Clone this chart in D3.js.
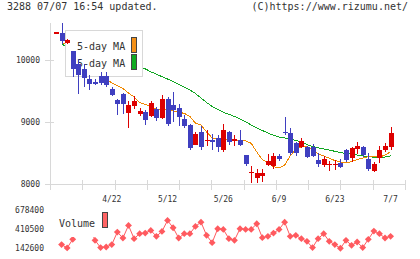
<!DOCTYPE html>
<html>
<head>
<meta charset="utf-8">
<script src="https://cdn.jsdelivr.net/npm/d3@7"></script>
<style>
  body { margin: 0; background: #fff; }
  svg { display: block; }
  text { font-family: "DejaVu Sans Mono", monospace; fill: #333; }
</style>
</head>
<body>
<div class="chart-box"></div>
<script>
/* Data (index 0 .. 60, one trading day each) */
const opens  = [10440,10435,10279,10140,9940,9860,9698,9650,9742,9742,9537,9360,9457,9150,9258,9129,9161,9092,9205,9070,
                9366,9274,9221,9043,8952,8629,8834,8689,8710,8737,8548,8834,8699,8710,8468,8173,8092,8129,8306,8290,
                8452,8844,8818,8657,8592,8592,8592,8387,8306,8306,8306,8344,8548,8414,8565,8592,8403,8215,8424,8548,8602];
const highs  = [10455,10597,10335,10150,10021,9940,9753,9698,9806,9806,9565,9376,9473,9339,9419,9226,9189,9334,9242,9430,
                9400,9489,9290,9113,8968,8844,8940,8871,8802,8790,8968,8855,8790,8871,8468,8290,8237,8237,8484,8505,
                8480,9076,8898,8683,8737,8613,8645,8505,8452,8376,8387,8398,8565,8592,8673,8613,8495,8360,8613,8657,8914];
const lows   = [10440,10263,10263,9726,9456,9565,9511,9597,9592,9565,9419,9118,9134,8903,9205,9097,8957,9081,9011,9054,
                8940,9005,8935,8898,8548,8629,8548,8613,8548,8521,8521,8629,8613,8618,8295,8021,8021,8037,8290,8237,
                8370,8790,8468,8452,8576,8420,8431,8279,8279,8215,8226,8253,8355,8350,8484,8431,8215,8194,8334,8521,8548];
const closes = [10450,10302,10318,9860,9753,9710,9608,9610,9634,9602,9441,9286,9295,9269,9334,9173,9027,9312,9065,9366,
                8965,9194,9076,8935,8586,8806,8602,8710,8673,8602,8871,8673,8726,8629,8318,8198,8173,8182,8376,8452,
                8398,8823,8505,8495,8694,8431,8452,8323,8403,8323,8323,8279,8387,8575,8613,8468,8237,8323,8548,8613,8828];
const volumes = [null,193400,148000,266200,499800,678400,444800,252500,152200,160500,193400,366500,284100,458600,275900,344500,352800,389900,307500,376100,
                 527300,427000,284100,344500,344500,444800,503900,321200,220900,413200,403600,275900,252500,413200,403600,403600,481900,289600,307500,352800,
                 403600,503900,307500,321200,275900,238800,152200,275900,344500,238800,193400,142600,252500,183800,229100,152200,266200,380300,344500,284100,307500];
const ma5  = [null,10266,10258,10161,10081,9984,9855,9758,9726,9694,9629,9589,9540,9468,9403,9315,9282,9258,9205,9185,
              9202,9177,9156,9140,9089,8984,8952,8839,8742,8721,8721,8718,8710,8706,8698,8656,8516,8395,8339,8279,
              8258,8306,8452,8556,8602,8602,8556,8484,8452,8415,8379,8355,8339,8363,8395,8419,8440,8440,8431,8468,8521];
const ma25 = [null,10250,10226,10194,10161,10137,10113,10081,10056,10032,10008,9984,9960,9935,9911,9887,9858,9810,9771,9731,
              9694,9653,9605,9561,9516,9460,9387,9315,9250,9202,9156,9126,9089,9048,9003,8952,8906,8863,8823,8785,
              8758,8742,8721,8702,8677,8637,8605,8584,8565,8548,8527,8505,8492,8484,8468,8452,8440,8432,8431,8435,8452];
const dateLabels = ["4/22", "5/12", "5/26", "6/9", "6/23", "7/7"];
const dateIndex = [10, 20, 30, 40, 50, 60];
const priceTicks = [8000, 9000, 10000];
const volumeTicks = [142600, 410500, 678400];

let width = 420, height = 259;
const upColor = "#dd0000", downColor = "#3f3fc0";
const ma5Color = "#f08800", ma25Color = "#11a622", volColor = "#ff5a5f";

let svg = d3.select(".chart-box")
  .append("svg")
  .attr("width", width)
  .attr("height", height);

/* Scales */
let x = d3.scaleLinear().domain([0, closes.length - 1]).range([56, 390.6]);
let y = d3.scaleLinear().domain([8000, 10000]).range([184, 60]);
let yv = d3.scaleLinear().domain([142600, 678400]).range([248.3, 209.5]);
let gridX = d3.scaleLinear().domain([0, 11]).range([50, 405]);

/* Header texts */
svg.append("text").attr("x", 7).attr("y", 10).style("font-size", "10px").text("3288 07/07 16:54 updated.");
svg.append("text").attr("x", 408).attr("y", 10).attr("text-anchor", "end").style("font-size", "10px").text("(C)https://www.rizumu.net/");

/* Axes frame */
let axis = svg.append("g").attr("stroke", "#d8d8d8").attr("shape-rendering", "crispEdges");
axis.append("line").attr("x1", 50.5).attr("x2", 50.5).attr("y1", 23).attr("y2", 190);
axis.append("line").attr("x1", 50).attr("x2", 406).attr("y1", y(8000) + 0.5).attr("y2", y(8000) + 0.5);
axis.selectAll(".xt").data(d3.range(12)).enter().append("line")
  .attr("x1", d => Math.round(gridX(d)) + 0.5).attr("x2", d => Math.round(gridX(d)) + 0.5)
  .attr("y1", 180).attr("y2", 190);
axis.selectAll(".yt").data(priceTicks).enter().append("line")
  .attr("x1", 45).attr("x2", 54)
  .attr("y1", d => Math.round(y(d)) + 0.5).attr("y2", d => Math.round(y(d)) + 0.5);

svg.selectAll(".ylab").data(priceTicks).enter().append("text")
  .attr("x", 40).attr("y", d => y(d) + 3).attr("text-anchor", "end")
  .style("font-size", "8px").text(d => d);

svg.selectAll(".xlab").data(dateLabels).enter().append("text")
  .attr("x", (d, i) => x(dateIndex[i])).attr("y", 201.5).attr("text-anchor", "middle")
  .style("font-size", "8px").text(d => d);

/* Moving averages (under the legend box) */
function maLine(values, color) {
  let line = d3.line()
    .defined(d => d != null)
    .x((d, i) => x(i))
    .y(d => y(d));
  svg.append("path")
    .datum(values)
    .attr("d", line)
    .attr("fill", "none")
    .attr("stroke", color)
    .attr("stroke-width", 1)
    .attr("shape-rendering", "crispEdges");
}
maLine(ma25, ma25Color);
maLine(ma5, ma5Color);

/* Price legend */
let legend = svg.append("g").attr("shape-rendering", "crispEdges");
legend.append("rect").attr("x", 65.5).attr("y", 30.5).attr("width", 77).attr("height", 46)
  .attr("fill", "#fff").attr("stroke", "#d8d8d8");
legend.append("text").attr("x", 77).attr("y", 50).style("font-size", "10px").text("5-day MA");
legend.append("text").attr("x", 77).attr("y", 67).style("font-size", "10px").text("5-day MA");
legend.append("rect").attr("x", 131.5).attr("y", 37.5).attr("width", 5).attr("height", 15)
  .attr("fill", "#f39018").attr("stroke", "#444");
legend.append("rect").attr("x", 131.5).attr("y", 54.5).attr("width", 5).attr("height", 15)
  .attr("fill", "#10aa20").attr("stroke", "#444");

/* Candles */
let candles = svg.append("g").attr("shape-rendering", "crispEdges")
  .selectAll("g").data(closes).enter().append("g");
candles.append("line")
  .attr("x1", (d, i) => Math.round(x(i)) + 0.5).attr("x2", (d, i) => Math.round(x(i)) + 0.5)
  .attr("y1", (d, i) => y(highs[i])).attr("y2", (d, i) => y(lows[i]))
  .attr("stroke", (d, i) => d >= opens[i] ? upColor : downColor);
candles.append("rect")
  .attr("x", (d, i) => Math.round(x(i)) - 2)
  .attr("width", 5)
  .attr("y", (d, i) => y(Math.max(d, opens[i])))
  .attr("height", (d, i) => Math.max(1.5, Math.abs(y(d) - y(opens[i]))))
  .attr("fill", (d, i) => d >= opens[i] ? upColor : downColor);

/* Volume panel */
svg.selectAll(".vlab").data(volumeTicks).enter().append("text")
  .attr("x", 44).attr("y", d => yv(d) + 3).attr("text-anchor", "end")
  .style("font-size", "8px").text(d => d);

let volLine = d3.line()
  .defined(d => d != null)
  .x((d, i) => x(i))
  .y(d => yv(d));
svg.append("path").datum(volumes).attr("d", volLine)
  .attr("fill", "none").attr("stroke", volColor).attr("stroke-width", 1);
let diamond = d3.symbolDiamond2 || d3.symbolDiamond;
svg.selectAll(".vpt").data(volumes.map((v, i) => [i, v]).filter(d => d[1] != null))
  .enter().append("path")
  .attr("transform", d => `translate(${x(d[0])},${yv(d[1])})`)
  .attr("d", d3.symbol().type(diamond).size(30))
  .attr("fill", volColor);

/* Volume legend (white background hides what is behind) */
svg.append("rect").attr("x", 56).attr("y", 203).attr("width", 56).attr("height", 34).attr("fill", "#fff");
svg.append("text").attr("x", 59).attr("y", 226.5).style("font-size", "10px").text("Volume");
svg.append("rect").attr("x", 102.5).attr("y", 212.5).attr("width", 5).attr("height", 15)
  .attr("fill", "#ff6464").attr("stroke", "#444").attr("shape-rendering", "crispEdges");
</script>
</body>
</html>
